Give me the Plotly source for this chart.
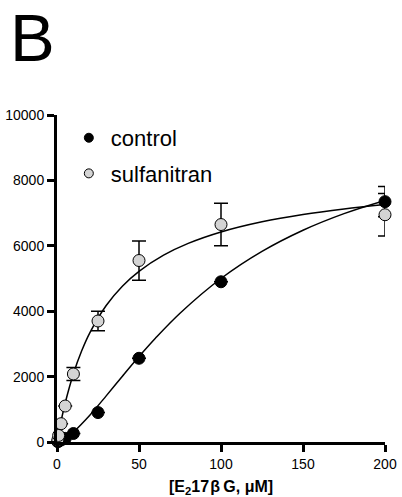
import plotly.graph_objects as go

# ---- data ----
conc = [0.5, 1, 2.5, 5, 10, 25, 50, 100, 200]
control = [10, 30, 60, 110, 260, 900, 2560, 4900, 7350]
control_err = [0, 0, 0, 0, 0, 0, 0, 0, 460]
sulfanitran = [60, 200, 560, 1100, 2080, 3700, 5550, 6650, 6950]
sulfanitran_err = [0, 0, 0, 0, 200, 300, 600, 650, 650]

# fitted curves
fit_x_control = [0, 5, 10, 20, 30, 40, 50, 60, 75, 100, 125, 150, 175, 200]
fit_y_control = [0, 110, 307, 821, 1411, 2019, 2612, 3173, 3938, 5000, 5829, 6476, 6984, 7388]
fit_x_sulf = [0, 2, 5, 10, 15, 20, 30, 40, 50, 65, 80, 100, 125, 150, 175, 200]
fit_y_sulf = [0, 522, 1193, 2088, 2783, 3340, 4175, 4771, 5219, 5713, 6073, 6423, 6734, 6958, 7127, 7261]

x_ticks = [0, 50, 100, 150, 200]
y_ticks = [0, 2000, 4000, 6000, 8000, 10000]

FONT = "Liberation Sans, Arial, sans-serif"

fig = go.Figure()

fig.add_trace(go.Scatter(x=fit_x_control, y=fit_y_control, mode="lines",
                         line=dict(color="black", width=1.5, shape="spline"),
                         showlegend=False, hoverinfo="skip", cliponaxis=False))
fig.add_trace(go.Scatter(x=fit_x_sulf, y=fit_y_sulf, mode="lines",
                         line=dict(color="black", width=1.5, shape="spline"),
                         showlegend=False, hoverinfo="skip", cliponaxis=False))

fig.add_trace(go.Scatter(x=conc, y=control, mode="markers",
                         marker=dict(size=12, color="black", line=dict(color="black", width=1)),
                         error_y=dict(type="data", array=control_err, color="black", thickness=1.5, width=7),
                         showlegend=False, cliponaxis=False))
fig.add_trace(go.Scatter(x=conc, y=sulfanitran, mode="markers",
                         marker=dict(size=12, color="#d4d4d4", line=dict(color="black", width=1)),
                         error_y=dict(type="data", array=sulfanitran_err, color="black", thickness=1.5, width=7),
                         showlegend=False, cliponaxis=False))

# legend entries
fig.add_trace(go.Scatter(x=[None], y=[None], mode="markers", name="control",
                         marker=dict(size=9, color="black", line=dict(color="black", width=1)),
                         legendgroup="a"))
fig.add_trace(go.Scatter(x=[None], y=[None], mode="markers", name="sulfanitran",
                         marker=dict(size=9, color="#d4d4d4", line=dict(color="black", width=1)),
                         legendgroup="b"))

fig.add_annotation(text="B", xref="paper", yref="paper", x=-0.15, y=1.2368,
                   xanchor="left", yanchor="middle", showarrow=False,
                   font=dict(family=FONT, size=67, color="black"))

fig.add_annotation(text="<b>[E<sub>2</sub>17\u200aβ\u2009G, μM]</b>", xref="paper", yref="paper",
                   x=0.5, y=-0.14, xanchor="center", yanchor="middle", showarrow=False,
                   font=dict(family=FONT, size=16, color="black"))

fig.update_layout(
    width=402, height=497,
    margin=dict(l=57, r=17, t=115, b=55),
    paper_bgcolor="white", plot_bgcolor="white",
    font=dict(family=FONT, color="black"),
    legend=dict(x=0.03, y=0.994, xanchor="left", yanchor="top",
                font=dict(size=22, family=FONT), bgcolor="rgba(0,0,0,0)",
                tracegroupgap=4, itemsizing="trace", itemwidth=34),
    xaxis=dict(range=[0, 200], tickvals=x_ticks, ticktext=[str(v) for v in x_ticks],
               showgrid=False, zeroline=False, showline=True, linewidth=3, linecolor="black",
               ticks="outside", ticklen=7, tickwidth=2.5, tickcolor="black", automargin=False,
               tickfont=dict(size=14, family=FONT)),
    yaxis=dict(range=[0, 10000], tickvals=y_ticks, ticktext=[str(v) for v in y_ticks],
               showgrid=False, zeroline=False, showline=True, linewidth=3, linecolor="black",
               ticks="outside", ticklen=7, tickwidth=2.5, tickcolor="black", automargin=False,
               tickfont=dict(size=14, family=FONT)),
)

fig.write_html("out.html")
